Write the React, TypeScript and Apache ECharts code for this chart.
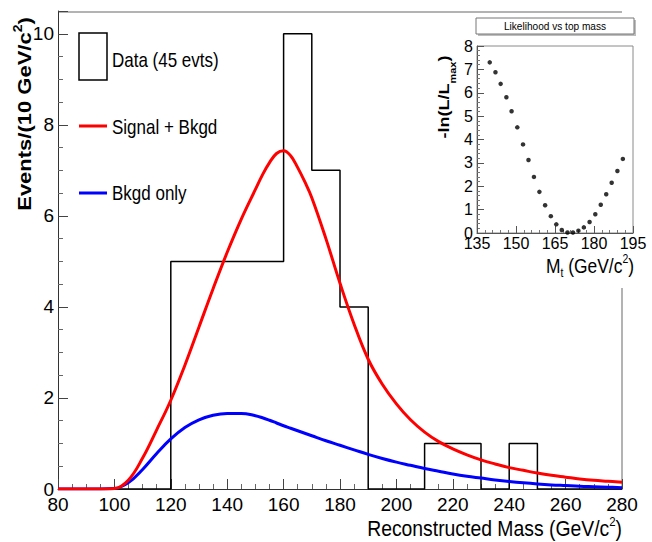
import React, { useEffect, useRef } from "react";
import * as echarts from "echarts";

// ---------- data ----------
const binEdges = [80, 90, 100, 110, 120, 130, 140, 150, 160, 170, 180, 190, 200, 210, 220, 230, 240, 250, 260, 270, 280];
const binCounts = [0, 0, 0, 0, 5, 5, 5, 5, 10, 7, 4, 0, 0, 1, 1, 0, 1, 0, 0, 0];

const massGrid = [80, 85, 90, 95, 100, 105, 110, 115, 120, 125, 130, 135, 140, 145, 150, 152.5, 155, 157.5, 160, 162.5, 165, 167.5, 170, 175, 180, 185, 190, 195, 200, 205, 210, 215, 220, 225, 230, 235, 240, 245, 250, 255, 260, 265, 270, 275, 280];
const signalPlusBkgd = [0, 0, 0, 0, 0.01, 0.2, 0.68, 1.3, 1.95, 2.72, 3.56, 4.4, 5.2, 5.93, 6.58, 6.9, 7.17, 7.37, 7.43, 7.32, 7.06, 6.75, 6.4, 5.5, 4.52, 3.62, 2.85, 2.3, 1.87, 1.52, 1.25, 1.04, 0.88, 0.75, 0.64, 0.55, 0.47, 0.41, 0.35, 0.3, 0.26, 0.22, 0.19, 0.17, 0.15];
const bkgdOnly = [0, 0, 0, 0, 0.01, 0.14, 0.43, 0.78, 1.1, 1.35, 1.52, 1.62, 1.66, 1.66, 1.61, 1.565, 1.51, 1.45, 1.39, 1.335, 1.28, 1.225, 1.17, 1.06, 0.96, 0.86, 0.76, 0.67, 0.59, 0.52, 0.45, 0.39, 0.33, 0.28, 0.24, 0.2, 0.165, 0.135, 0.11, 0.09, 0.075, 0.06, 0.05, 0.04, 0.03];

const likeMass = [139.9, 142.1, 144.1, 146.3, 148.3, 150.5, 152.7, 154.8, 156.9, 159.0, 161.2, 163.4, 165.5, 167.6, 169.8, 171.9, 174.0, 176.1, 178.3, 180.5, 182.6, 184.7, 186.8, 189.0, 191.1];
const likeValue = [7.3, 6.88, 6.38, 5.81, 5.21, 4.52, 3.79, 3.12, 2.4, 1.76, 1.19, 0.72, 0.37, 0.13, 0.02, 0.02, 0.1, 0.24, 0.47, 0.8, 1.21, 1.66, 2.15, 2.65, 3.17];

const mainXTicks = { min: 80, max: 280, interval: 20 };
const mainYTicks = { min: 0, max: 10.5, interval: 2 };
const insetXTicks = { min: 135, max: 195, interval: 15 };
const insetYTicks = { min: 0, max: 8, interval: 1 };

const legendLabels = ["Data (45 evts)", "Signal + Bkgd", "Bkgd only"];

// ---------- layout ----------
const SANS = "'Liberation Sans', Arial, Helvetica, sans-serif";
const MAIN = { left: 58, top: 11, width: 564, height: 478 };
const INSET = { left: 477, top: 46, width: 156, height: 187 };

export default function App() {
  const ref = useRef<HTMLDivElement>(null);

  useEffect(() => {
    if (!ref.current) return;
    const chart = echarts.init(ref.current, undefined, { renderer: "svg" });

    const histData = binEdges.map((e, i) => [e, binCounts[Math.min(i, binCounts.length - 1)]]);
    const redData = massGrid.map((m, i) => [m, signalPlusBkgd[i]]);
    const blueData = massGrid.map((m, i) => [m, bkgdOnly[i]]);
    const likeData = likeMass.map((m, i) => [m, likeValue[i]]);

    const mainRight = MAIN.left + MAIN.width;
    const mainBottom = MAIN.top + MAIN.height;

    const legendText = (i: number, y: number) => ({
      type: "text", x: 112, y, scaleX: 0.85,
      style: { text: legendLabels[i], font: `20px ${SANS}`, fill: "#000", verticalAlign: "middle" },
    });

    const option: any = {
      animation: false,
      backgroundColor: "#ffffff",
      grid: [
        { left: MAIN.left, top: MAIN.top, width: MAIN.width, height: MAIN.height, show: false },
        {
          left: INSET.left, top: INSET.top, width: INSET.width, height: INSET.height,
          show: true, borderColor: "#8a8a8a", borderWidth: 1, backgroundColor: "#ffffff",
        },
      ],
      xAxis: [
        {
          gridIndex: 0, type: "value", ...mainXTicks,
          axisLine: { show: true, lineStyle: { color: "#333", width: 1 } },
          axisTick: { show: true, inside: true, length: 10, lineStyle: { color: "#444" } },
          minorTick: { show: true, splitNumber: 4, length: 5, lineStyle: { color: "#666" } },
          splitLine: { show: false },
          axisLabel: { color: "#000", fontFamily: SANS, fontSize: 19, margin: 6 },
        },
        {
          gridIndex: 1, type: "value", ...insetXTicks,
          axisLine: { show: true, lineStyle: { color: "#555", width: 1 } },
          axisTick: { show: true, inside: true, length: 7, lineStyle: { color: "#555" } },
          minorTick: { show: true, splitNumber: 5, length: 3, lineStyle: { color: "#777" } },
          splitLine: { show: false },
          axisLabel: { color: "#000", fontFamily: SANS, fontSize: 16, margin: 2 },
        },
      ],
      yAxis: [
        {
          gridIndex: 0, type: "value", ...mainYTicks,
          axisLine: { show: true, lineStyle: { color: "#333", width: 1 } },
          axisTick: { show: true, inside: true, length: 10, lineStyle: { color: "#444" } },
          minorTick: { show: true, splitNumber: 4, length: 5, lineStyle: { color: "#666" } },
          splitLine: { show: false },
          axisLabel: { color: "#000", fontFamily: SANS, fontSize: 19, margin: 4, showMaxLabel: false },
        },
        {
          gridIndex: 1, type: "value", ...insetYTicks,
          axisLine: { show: true, lineStyle: { color: "#555", width: 1 } },
          axisTick: { show: true, inside: true, length: 7, lineStyle: { color: "#555" } },
          minorTick: { show: true, splitNumber: 5, length: 3, lineStyle: { color: "#777" } },
          splitLine: { show: false },
          axisLabel: { color: "#000", fontFamily: SANS, fontSize: 16, margin: 4 },
        },
      ],
      series: [
        {
          type: "line", xAxisIndex: 0, yAxisIndex: 0, step: "end", data: histData,
          symbol: "none", lineStyle: { color: "#000", width: 1.5 }, z: 2,
        },
        {
          type: "line", xAxisIndex: 0, yAxisIndex: 0, data: blueData, smooth: 0.4,
          symbol: "none", lineStyle: { color: "#0000ff", width: 3 }, z: 3,
        },
        {
          type: "line", xAxisIndex: 0, yAxisIndex: 0, data: redData, smooth: 0.4,
          symbol: "none", lineStyle: { color: "#ff0000", width: 3 }, z: 4,
        },
        {
          type: "scatter", xAxisIndex: 1, yAxisIndex: 1, data: likeData,
          symbol: "circle", symbolSize: 4.5, itemStyle: { color: "#000" }, z: 5,
        },
      ],
      graphic: [
        // main frame top & right borders
        { type: "line", shape: { x1: MAIN.left, y1: MAIN.top + 1, x2: mainRight, y2: MAIN.top + 1 }, style: { stroke: "#9a9a9a", lineWidth: 1.5 }, z: 0 },
        { type: "line", shape: { x1: mainRight, y1: 288, x2: mainRight, y2: mainBottom }, style: { stroke: "#9a9a9a", lineWidth: 1.5 }, z: 0 },
        // legend
        { type: "rect", shape: { x: 79, y: 33, width: 28, height: 47 }, style: { fill: "none", stroke: "#000", lineWidth: 1.5 } },
        legendText(0, 60),
        { type: "line", shape: { x1: 79, y1: 126, x2: 107, y2: 126 }, style: { stroke: "#ff0000", lineWidth: 3 } },
        legendText(1, 127),
        { type: "line", shape: { x1: 79, y1: 193, x2: 107, y2: 193 }, style: { stroke: "#0000ff", lineWidth: 3 } },
        legendText(2, 193),
        // main axis titles
        {
          type: "text", x: mainRight, y: 527, scaleX: 0.88,
          style: {
            text: "{t|Reconstructed Mass (GeV/c}{s|2}{t|)}", align: "right", verticalAlign: "middle",
            rich: {
              t: { fontFamily: SANS, fontSize: 22, fill: "#000", lineHeight: 24, verticalAlign: "bottom" },
              s: { fontFamily: SANS, fontSize: 13, fill: "#000", lineHeight: 24, verticalAlign: "top" },
            },
          },
        },
        {
          type: "text", x: 23, y: 114, rotation: Math.PI / 2, scaleY: 0.85,
          style: {
            text: "{t|Events/(10 GeV/c}{s|2}{t|)}", align: "center", verticalAlign: "middle",
            rich: {
              t: { fontFamily: SANS, fontWeight: "bold", fontSize: 22, fill: "#000", lineHeight: 25, verticalAlign: "bottom" },
              s: { fontFamily: SANS, fontWeight: "bold", fontSize: 14, fill: "#000", lineHeight: 25, verticalAlign: "top" },
            },
          },
        },
        // inset title box
        { type: "rect", shape: { x: 478, y: 20, width: 158, height: 16 }, style: { fill: "#bdbdbd", stroke: "none" }, z: 10 },
        { type: "rect", shape: { x: 476, y: 18, width: 158, height: 16 }, style: { fill: "#fff", stroke: "#777", lineWidth: 1 }, z: 11 },
        { type: "text", x: 555, y: 26, scaleX: 0.92, style: { text: "Likelihood vs top mass", font: `11px ${SANS}`, fill: "#000", align: "center", verticalAlign: "middle" }, z: 12 },
        // inset axis titles
        {
          type: "text", x: 447, y: 97, rotation: Math.PI / 2, scaleY: 0.85,
          style: {
            text: "{t|-ln(L/L}{s|max}{t|)}", align: "center", verticalAlign: "middle",
            rich: {
              t: { fontFamily: SANS, fontWeight: "bold", fontSize: 18, fill: "#000", lineHeight: 24, verticalAlign: "top" },
              s: { fontFamily: SANS, fontWeight: "bold", fontSize: 11, fill: "#000", lineHeight: 24, verticalAlign: "bottom" },
            },
          },
        },
        {
          type: "text", x: 634, y: 266, scaleX: 0.87,
          style: {
            text: "{t|M}{b|t}{t| (GeV/c}{s|2}{t|)}", align: "right", verticalAlign: "middle",
            rich: {
              t: { fontFamily: SANS, fontSize: 20, fill: "#000", lineHeight: 26, verticalAlign: "middle" },
              b: { fontFamily: SANS, fontSize: 12, fill: "#000", lineHeight: 26, verticalAlign: "bottom" },
              s: { fontFamily: SANS, fontSize: 12, fill: "#000", lineHeight: 26, verticalAlign: "top" },
            },
          },
        },
      ],
    };

    chart.setOption(option);
    return () => chart.dispose();
  }, []);

  return <div ref={ref} style={{ width: 652, height: 542, position: "absolute", left: 0, top: 0 }} />;
}
